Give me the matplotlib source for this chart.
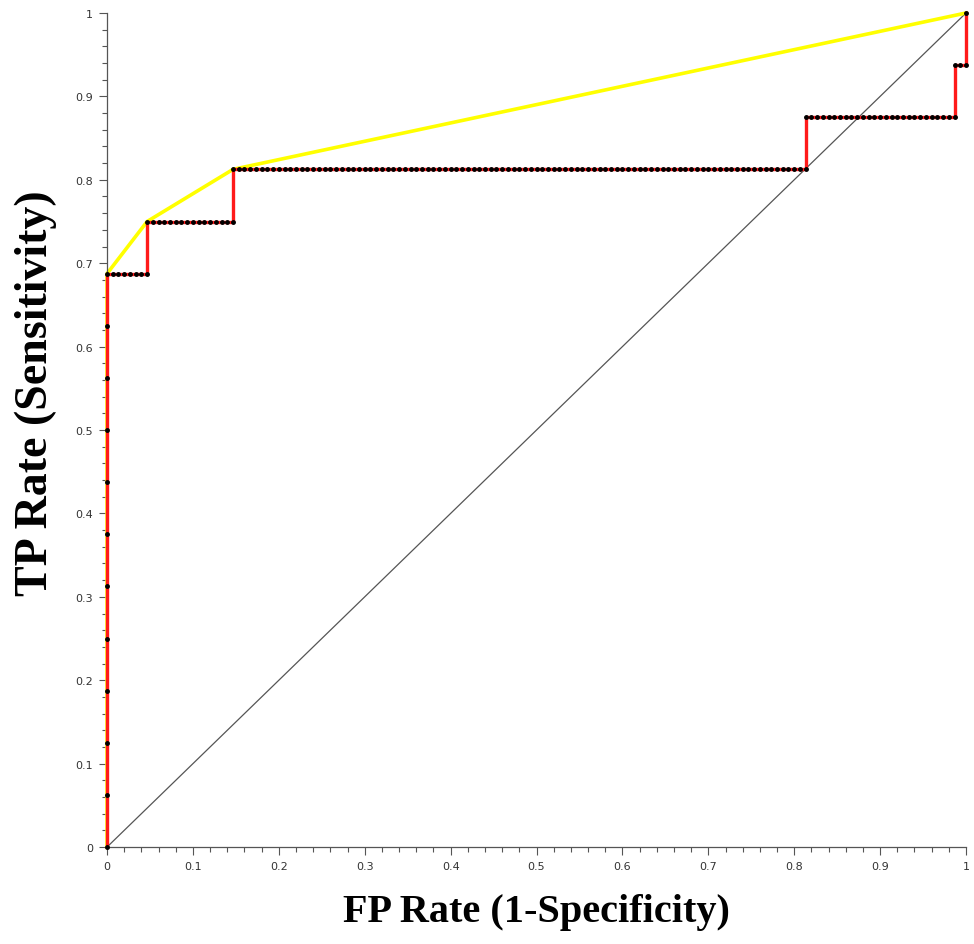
import numpy as np
import matplotlib.pyplot as plt
from matplotlib.ticker import MultipleLocator

# ROC path, as run lengths of steps
# 16 positives, 150 negatives
n_pos = 16
n_neg = 150
# (direction, number of steps): 'u' = one more TP, 'r' = one more FP
moves = [('u', 11), ('r', 7), ('u', 1), ('r', 15), ('u', 1), ('r', 100),
         ('u', 1), ('r', 26), ('u', 1), ('r', 2), ('u', 1)]

# convex hull (yellow)
hull_fp = [0.0, 0.0, 7 / 150, 22 / 150, 1.0]
hull_tp = [0.0, 11 / 16, 12 / 16, 13 / 16, 1.0]

# build the ROC points from the run lengths
tp, fp = 0, 0
roc_fp, roc_tp = [0.0], [0.0]
for d, n in moves:
    for _ in range(n):
        if d == 'u':
            tp += 1
        else:
            fp += 1
        roc_fp.append(fp / n_neg)
        roc_tp.append(tp / n_pos)
roc_fp = np.array(roc_fp)
roc_tp = np.array(roc_tp)

fig = plt.figure(figsize=(9.74, 9.45), dpi=100)
ax = fig.add_axes([0.1099, 0.1026, 0.8819, 0.8826])

ax.plot([0, 1], [0, 1], color='#555555', lw=0.9, zorder=1)
ax.plot(hull_fp, hull_tp, color='#ffff00', lw=2.6, zorder=2, clip_on=False)
ax.plot(roc_fp, roc_tp, color='#ff1a1a', lw=2.4, zorder=3, clip_on=False)
ax.plot(roc_fp, roc_tp, ls='none', marker='o', ms=2.5, color='black',
        zorder=4, clip_on=False)

ax.set_xlim(0, 1)
ax.set_ylim(0, 1)
ax.xaxis.set_minor_locator(MultipleLocator(0.02))
ax.yaxis.set_minor_locator(MultipleLocator(0.02))
ticks = np.round(np.arange(0, 1.01, 0.1), 1)
labels = ['0'] + ['%.1f' % t for t in ticks[1:-1]] + ['1']
ax.set_xticks(ticks)
ax.set_xticklabels(labels)
ax.set_yticks(ticks)
ax.set_yticklabels(labels)
ax.tick_params(which='major', length=6, width=0.8, color='#555555',
               labelsize=8, labelcolor='#333333', pad=4)
ax.tick_params(which='minor', length=3.5, width=0.8, color='#555555')

for s in ['top', 'right']:
    ax.spines[s].set_visible(False)
for s in ['left', 'bottom']:
    ax.spines[s].set_color('#555555')
    ax.spines[s].set_linewidth(0.9)

ax.set_xlabel('FP Rate (1-Specificity)', family='Liberation Serif',
              fontweight='bold', fontsize=29, labelpad=16)
ax.set_ylabel('TP Rate (Sensitivity)', family='Liberation Serif',
              fontweight='bold', fontsize=33)
ax.yaxis.set_label_coords(-0.058, 0.545)

fig.savefig('out.png', dpi=100)
